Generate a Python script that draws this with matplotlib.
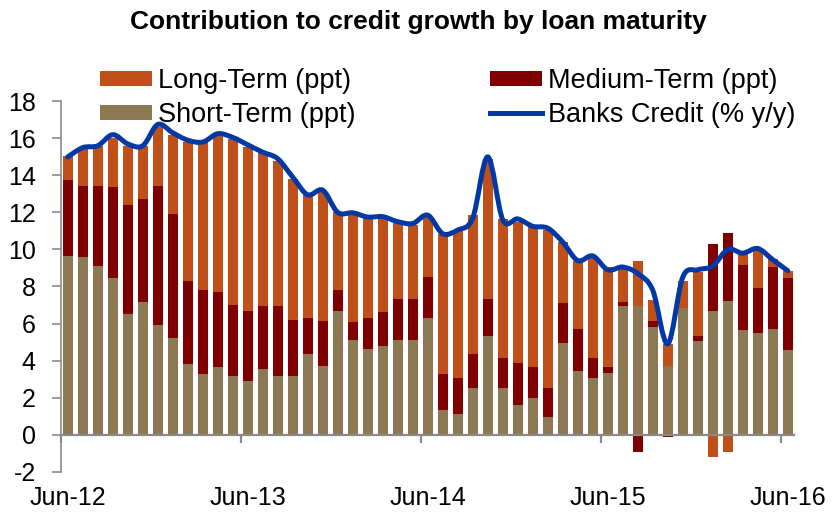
import numpy as np
import pandas as pd
import matplotlib
matplotlib.use("Agg")
import matplotlib.pyplot as plt
from matplotlib.path import Path
from matplotlib.patches import PathPatch
import matplotlib.transforms as mtransforms

plt.rcParams['font.family'] = ['Liberation Sans', 'DejaVu Sans']

# Monthly observations, Jun-2012 .. Jun-2016
months = pd.period_range('2012-06', '2016-06', freq='M')

short_term = [9.62, 9.59, 9.08, 8.47, 6.52, 7.15, 5.93, 5.23, 3.82, 3.25,
              3.66, 3.15, 2.87, 3.57, 3.17, 3.14, 4.33, 3.70, 6.67, 5.12,
              4.63, 4.77, 5.10, 5.10, 6.32, 1.35, 1.10, 2.50, 5.34, 2.54,
              1.59, 1.99, 0.97, 4.95, 3.44, 3.06, 3.32, 6.97, 6.92, 5.80,
              3.71, 6.85, 5.08, 6.70, 7.19, 5.66, 5.51, 5.68, 4.59]

medium_term = [4.11, 3.82, 4.34, 4.88, 5.88, 5.57, 7.48, 6.68, 4.50, 4.55,
               4.04, 3.83, 3.79, 3.36, 3.76, 3.03, 1.97, 2.43, 1.13, 0.97,
               1.68, 1.86, 2.20, 2.25, 2.20, 1.91, 1.96, 1.86, 1.99, 1.60,
               2.29, 1.66, 1.55, 2.15, 2.27, 1.07, 0.32, 0.18, -0.92, 0.36,
               -0.14, -0.08, 0.27, 3.60, 3.71, 3.49, 2.40, 3.37, 3.86]

long_term = [1.30, 1.99, 2.15, 2.69, 3.20, 2.85, 3.19, 4.29, 7.48, 8.00,
             8.50, 8.97, 8.89, 8.27, 7.87, 7.65, 6.62, 6.97, 4.20, 5.77,
             5.37, 4.99, 4.14, 3.95, 3.28, 7.60, 7.98, 7.49, 7.57, 7.53,
             7.58, 7.55, 8.54, 3.30, 3.69, 5.47, 5.41, 1.90, 2.45, 1.12,
             1.19, 1.47, 3.42, -1.22, -0.96, 0.62, 2.07, 0.45, 0.41]

banks_credit = [15.00, 15.50, 15.60, 16.20, 15.70, 15.60, 16.75, 16.30, 15.90, 15.80,
                16.25, 16.05, 15.65, 15.25, 14.90, 13.90, 12.95, 13.20, 12.00, 11.98,
                11.75, 11.77, 11.50, 11.40, 11.85, 10.85, 11.05, 11.70, 15.00, 11.60,
                11.65, 11.25, 11.15, 10.40, 9.40, 9.65, 8.90, 9.05, 8.70, 7.80,
                4.90, 8.50, 8.90, 9.10, 10.00, 9.80, 10.05, 9.45, 8.85]

series = [
    ("Short-Term (ppt)", short_term, "#8C7853"),
    ("Medium-Term (ppt)", medium_term, "#800000"),
    ("Long-Term (ppt)", long_term, "#C0501A"),
]
line_color = "#0039A6"
axis_gray = "#8A8A8A"
FS = 18
LEG_FS = 19.5

fig = plt.figure(figsize=(8.36, 5.15), dpi=100)
ax = fig.add_axes([0.073, 0.0841, 0.8768, 0.7192])

x = np.arange(len(months))
pos_base = np.zeros(len(x))
neg_base = np.zeros(len(x))
handles = {}
for name, vals, color in series:
    v = np.asarray(vals, dtype=float)
    bottom = np.where(v >= 0, pos_base, neg_base)
    b = ax.bar(x, v, width=0.667, bottom=bottom, color=color,
               edgecolor="none", zorder=2, label=name)
    handles[name] = b
    pos_base = pos_base + np.where(v >= 0, v, 0)
    neg_base = neg_base + np.where(v < 0, v, 0)

# Smoothed credit-growth line (cubic Bezier through each monthly point)
y = np.asarray(banks_credit, dtype=float)
pts = np.column_stack([x, y])
verts = [pts[0]]
codes = [Path.MOVETO]
n = len(pts)
for i in range(n - 1):
    p0 = pts[max(i - 1, 0)]
    p1 = pts[i]
    p2 = pts[i + 1]
    p3 = pts[min(i + 2, n - 1)]
    c1 = p1 + (p2 - p0) / 6.0
    c2 = p2 - (p3 - p1) / 6.0
    verts += [c1, c2, p2]
    codes += [Path.CURVE4] * 3
ax.add_patch(PathPatch(Path(verts, codes), facecolor="none",
                       edgecolor=line_color, lw=3.6, capstyle="round",
                       joinstyle="round", zorder=3))
line_handle, = ax.plot([], [], color=line_color, lw=3.6,
                       label="Banks Credit (% y/y)")

ax.set_xlim(-0.45, 48.42)
ax.set_ylim(-2, 18)
ax.set_yticks(np.arange(-2, 19, 2))
ax.set_yticklabels([f"{t:d}" for t in range(-2, 19, 2)], fontsize=FS)

for s in ["top", "right"]:
    ax.spines[s].set_visible(False)
ax.spines["left"].set_color(axis_gray)
ax.spines["left"].set_linewidth(1.2)
ax.spines["bottom"].set_position(("data", 0))
ax.spines["bottom"].set_color(axis_gray)
ax.spines["bottom"].set_linewidth(1.6)
ax.tick_params(axis="y", direction="out", length=6.7, width=1.2,
               color=axis_gray, pad=11.5)

# Year ticks sit between months; labels centred on the June bars
year_idx = [i for i, m in enumerate(months) if m.month == 6]
ax.set_xticks([i - 0.45 for i in year_idx])
ax.set_xticklabels([])
ax.tick_params(axis="x", direction="out", length=5.5, width=1.6,
               color=axis_gray)
trans = mtransforms.blended_transform_factory(ax.transData, fig.transFigure)
for i in year_idx:
    ax.text(i, 0.033, months[i].strftime("%b-%y"), transform=trans,
            ha="center", va="center", fontsize=FS)

fig.text(0.501, 0.958, "Contribution to credit growth by loan maturity",
         ha="center", va="center", fontsize=19, fontweight="bold")

leg_handles = [handles["Long-Term (ppt)"], handles["Short-Term (ppt)"],
               handles["Medium-Term (ppt)"], line_handle]
leg_labels = ["Long-Term (ppt)", "Short-Term (ppt)",
              "Medium-Term (ppt)", "Banks Credit (% y/y)"]
fig.legend(leg_handles, leg_labels, ncol=2, loc="upper left",
           bbox_to_anchor=(0.1196, 0.868), frameon=False, fontsize=LEG_FS,
           handlelength=1.93, handleheight=0.5, handletextpad=0.22,
           columnspacing=4.96, labelspacing=0.3, borderpad=0,
           borderaxespad=0)

fig.savefig("out.png", dpi=100)
